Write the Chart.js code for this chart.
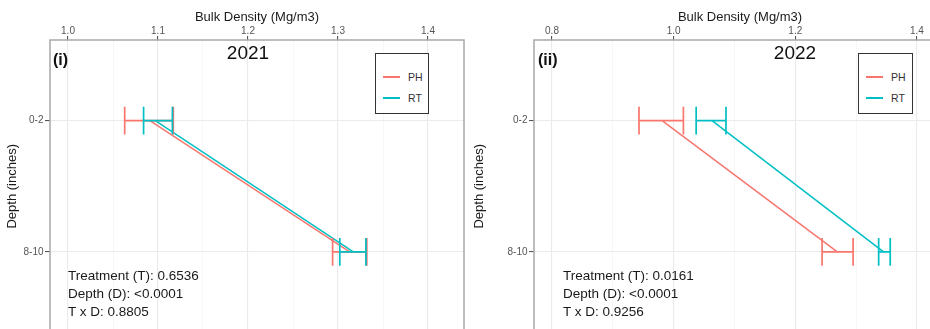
<!DOCTYPE html>
<html><head><meta charset="utf-8">
<script src="https://cdn.jsdelivr.net/npm/chart.js@4"></script>
<style>
html,body{margin:0;padding:0;background:#fff;width:930px;height:329px;overflow:hidden;position:relative;font-family:"Liberation Sans",Arial,sans-serif}
canvas{position:absolute;top:0}
.t{position:absolute;white-space:nowrap;line-height:1}
.c{transform:translate(-50%,-50%)}
.m{transform:translateY(-50%)}
.leg{position:absolute;border:1.5px solid #333;background:#fff;box-sizing:border-box}
.sw{position:absolute;height:1.6px}
</style></head>
<body>
<canvas id="c1" width="470" height="340" style="left:0"></canvas>
<canvas id="c2" width="487" height="340" style="left:465px"></canvas>
<div id="ov"></div>
<script>
// ---- data ----
const depthLabels = ['0-2', '8-10'];
const seriesNames = ['PH', 'RT'];
const seriesColors = ['#F8766D', '#00BFC4'];

// 2021 (mean, lower, upper) per depth
const ph2021Mean = [1.091, 1.313];
const ph2021Lo   = [1.063, 1.294];
const ph2021Hi   = [1.117, 1.332];
const rt2021Mean = [1.097, 1.317];
const rt2021Lo   = [1.084, 1.302];
const rt2021Hi   = [1.116, 1.331];

// 2022
const ph2022Mean = [0.981, 1.269];
const ph2022Lo   = [0.943, 1.244];
const ph2022Hi   = [1.016, 1.295];
const rt2022Mean = [1.063, 1.345];
const rt2022Lo   = [1.037, 1.337];
const rt2022Hi   = [1.086, 1.356];

const xTicks2021 = [1.0, 1.1, 1.2, 1.3, 1.4];
const xMinor2021 = [1.05, 1.15, 1.25, 1.35];
const xTicks2022 = [0.8, 1.0, 1.2, 1.4];
const xMinor2022 = [0.9, 1.1, 1.3];

const stats2021 = ['Treatment (T): 0.6536', 'Depth (D): <0.0001', 'T x D: 0.8805'];
const stats2022 = ['Treatment (T): 0.0161', 'Depth (D): <0.0001', 'T x D: 0.9256'];

// ---- drawing ----
const CAP = 0.106;
const errPlugin = {
  id: 'err',
  afterDatasetsDraw(chart) {
    const {ctx, scales: {x, y}} = chart;
    chart.data.datasets.forEach(ds => {
      ctx.save();
      ctx.strokeStyle = ds.borderColor;
      ctx.lineWidth = 1.7;
      ds.lo.forEach((lo, i) => {
        const yy = y.getPixelForValue(i + 1);
        const h = Math.abs(y.getPixelForValue(i + 1 + CAP) - yy);
        const x0 = x.getPixelForValue(lo), x1 = x.getPixelForValue(ds.hi[i]);
        ctx.beginPath();
        ctx.moveTo(x0, yy); ctx.lineTo(x1, yy);
        ctx.moveTo(x0, yy - h); ctx.lineTo(x0, yy + h);
        ctx.moveTo(x1, yy - h); ctx.lineTo(x1, yy + h);
        ctx.stroke();
      });
      ctx.restore();
    });
  }
};
const borderPlugin = {
  id: 'pborder',
  afterDraw(chart) {
    const a = chart.chartArea, ctx = chart.ctx;
    ctx.save();
    ctx.strokeStyle = '#a8a8a8';
    ctx.lineWidth = 1.5;
    ctx.strokeRect(a.left, a.top, a.right - a.left, a.bottom - a.top);
    ctx.restore();
  }
};

function makePanel(id, o) {
  const isMajor = v => o.major.some(m => Math.abs(m - v) < 1e-9);
  const datasets = o.series.map((s, k) => ({
    label: seriesNames[k],
    data: s.mean.map((v, i) => ({x: v, y: i + 1})),
    lo: s.lo, hi: s.hi,
    borderColor: seriesColors[k], backgroundColor: seriesColors[k],
    borderWidth: 1.5, pointRadius: 0, showLine: true
  }));
  new Chart(document.getElementById(id), {
    type: 'scatter',
    data: {datasets},
    options: {
      responsive: false, animation: false, devicePixelRatio: 1,
      layout: {padding: {left: 0, top: 0, right: 6, bottom: 6}},
      plugins: {legend: {display: false}, tooltip: {enabled: false}},
      scales: {
        x: {
          type: 'linear', position: 'top', min: o.xmin, max: o.xmax,
          afterBuildTicks: sc => { sc.ticks = o.major.concat(o.minor).sort((a, b) => a - b).map(v => ({value: v})); },
          afterFit: sc => { sc.height = 40; },
          ticks: {autoSkip: false, maxRotation: 0, padding: -1, color: '#555',
            font: {family: 'Liberation Sans', size: 10},
            callback: v => isMajor(v) ? v.toFixed(1) : ''},
          grid: {
            color: c => (c.tick && isMajor(c.tick.value)) ? '#ebebeb' : '#f3f3f3',
            lineWidth: c => (c.tick && isMajor(c.tick.value)) ? 1.1 : 0.7,
            tickLength: 4,
            tickColor: c => (c.tick && isMajor(c.tick.value)) ? '#555' : 'rgba(0,0,0,0)'
          },
          border: {display: false},
          title: {display: true, text: 'Bulk Density (Mg/m3)', color: '#1a1a1a',
            font: {family: 'Liberation Sans', size: 13}, padding: {top: 10, bottom: 0}}
        },
        y: {
          type: 'linear', reverse: true, min: 0.386, max: 2.614,
          afterBuildTicks: sc => { sc.ticks = depthLabels.map((_, i) => ({value: i + 1})); },
          afterFit: sc => { sc.width = o.yw; },
          ticks: {padding: 1.5, color: '#555', font: {family: 'Liberation Sans', size: 10},
            callback: v => depthLabels[Math.round(v) - 1]},
          grid: {color: '#ebebeb', lineWidth: 1.1, tickLength: 5, tickColor: '#555'},
          border: {display: false},
          title: {display: true, text: 'Depth (inches)', color: '#1a1a1a',
            font: {family: 'Liberation Sans', size: 13}, padding: {top: o.ytp, bottom: 0}}
        }
      }
    },
    plugins: [errPlugin, borderPlugin]
  });
}

makePanel('c1', {
  xmin: 0.98, xmax: 1.44, major: xTicks2021, minor: xMinor2021, yw: 50, ytp: 5,
  series: [{mean: ph2021Mean, lo: ph2021Lo, hi: ph2021Hi}, {mean: rt2021Mean, lo: rt2021Lo, hi: rt2021Hi}]
});
makePanel('c2', {
  xmin: 0.7704, xmax: 1.4477, major: xTicks2022, minor: xMinor2022, yw: 69, ytp: 7,
  series: [{mean: ph2022Mean, lo: ph2022Lo, hi: ph2022Hi}, {mean: rt2022Mean, lo: rt2022Lo, hi: rt2022Hi}]
});

// ---- text overlays ----
const ov = document.getElementById('ov');
function txt(s, css, cls) {
  const d = document.createElement('div');
  d.className = 't ' + (cls || '');
  d.textContent = s;
  d.style.cssText = css;
  ov.appendChild(d);
}
function panelText(p) {
  txt(p.tag, `left:${p.tagX}px;top:60px;font-size:16px;font-weight:bold;color:#111`, 'm');
  txt(p.year, `left:${p.yearX}px;top:52px;font-size:19px;color:#111`, 'c');
  p.stats.forEach((s, i) => txt(s, `left:${p.statX}px;top:${276 + i * 18}px;font-size:13.5px;color:#1a1a1a`, 'm'));
  const lg = document.createElement('div');
  lg.className = 'leg';
  lg.style.cssText = `left:${p.legX}px;top:53px;width:${p.legW}px;height:61px`;
  ov.appendChild(lg);
  seriesNames.forEach((n, k) => {
    const yc = 77 + k * 21;
    const sw = document.createElement('div');
    sw.className = 'sw';
    sw.style.cssText = `left:${p.legX + 8}px;top:${yc - 0.8}px;width:17px;background:${seriesColors[k]}`;
    ov.appendChild(sw);
    txt(n, `left:${p.legX + 33}px;top:${yc}px;font-size:10.5px;color:#333`, 'm');
  });
}
panelText({tag: '(i)', tagX: 53, year: '2021', yearX: 248, stats: stats2021, statX: 68, legX: 375, legW: 54});
panelText({tag: '(ii)', tagX: 538, year: '2022', yearX: 795, stats: stats2022, statX: 563, legX: 858, legW: 55});
</script>
</body></html>
